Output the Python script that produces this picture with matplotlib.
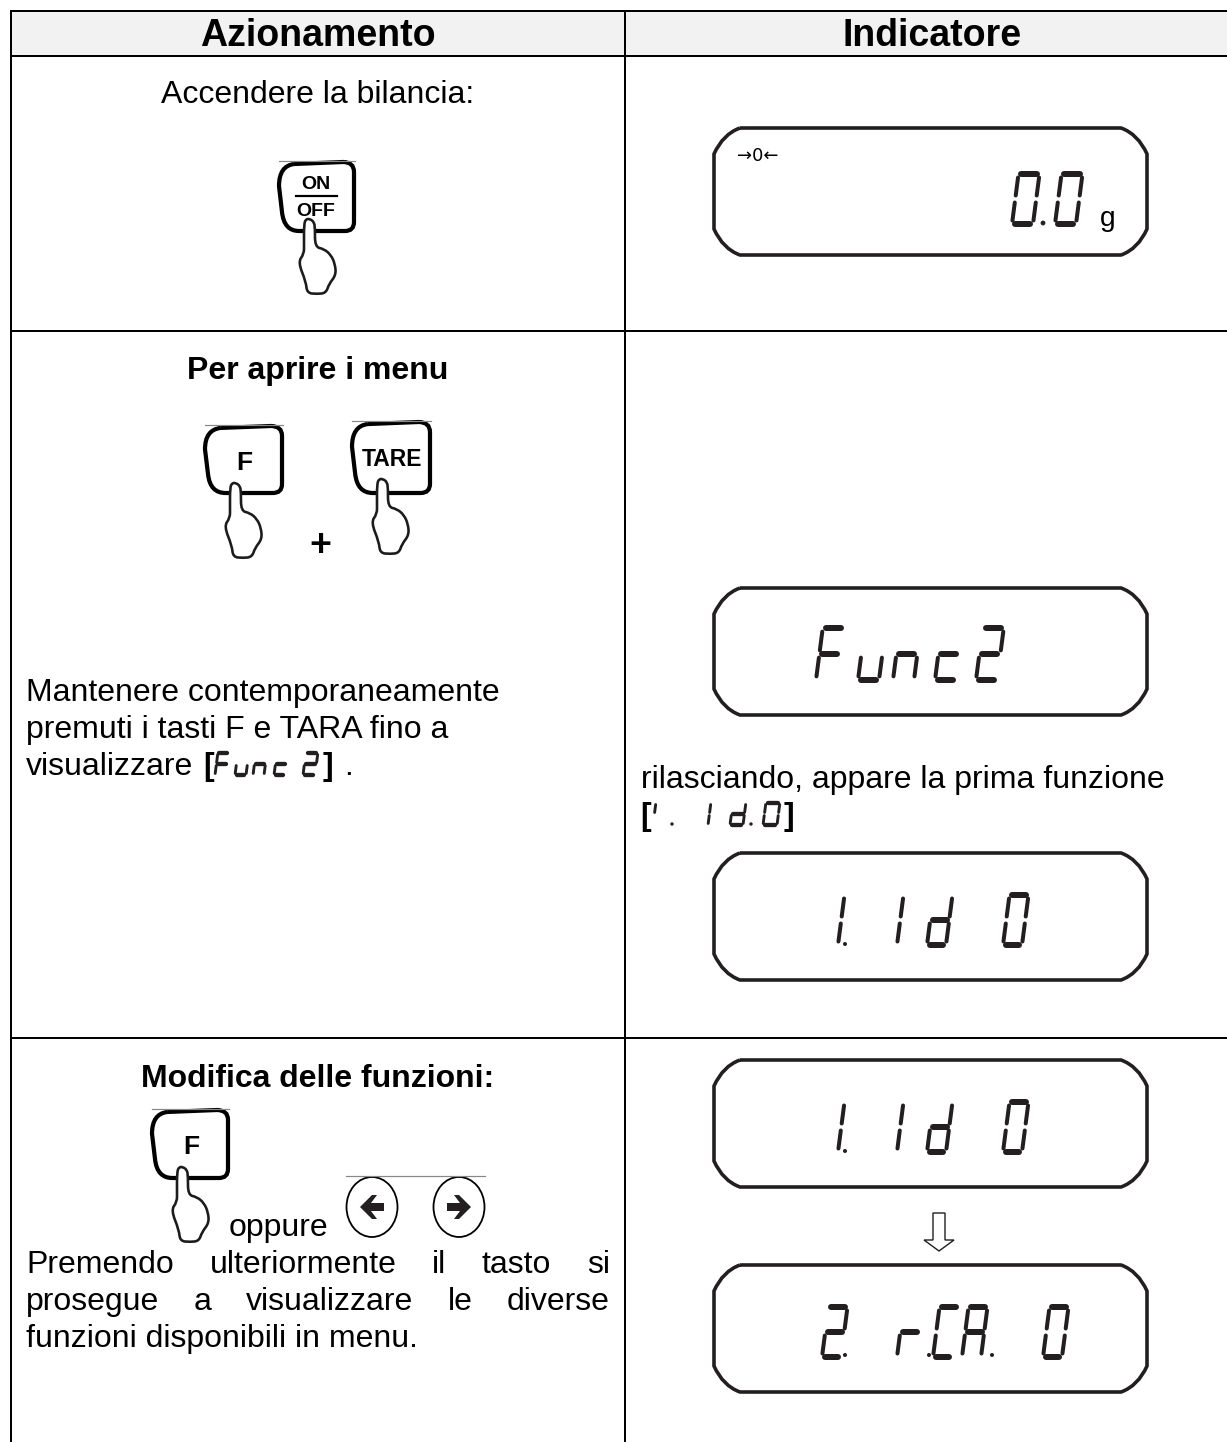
import matplotlib
matplotlib.use('Agg')
import matplotlib.pyplot as plt
from matplotlib.path import Path
from matplotlib.patches import PathPatch, Ellipse, Polygon, Rectangle

plt.rcParams['font.family'] = ['Liberation Sans', 'DejaVu Sans']

# texts of the table
headers = ['Azionamento', 'Indicatore']
turn_on = 'Accendere la bilancia:'
menu_title = 'Per aprire i menu'
menu_lines = ['Mantenere contemporaneamente', 'premuti i tasti F e TARA fino a', 'visualizzare']
release_line = 'rilasciando, appare la prima funzione'
change_title = 'Modifica delle funzioni:'
or_word = 'oppure'
change_lines = ['Premendo ulteriormente il tasto si', 'prosegue a visualizzare le diverse', 'funzioni disponibili in menu.']

# what the LCD displays read
lcd_zero = '00'
lcd_func = 'Func2'
lcd_id = '11d0'
lcd_rca = '2rCA0'
key_labels = ['ON', 'OFF', 'F', 'TARE']

fig = plt.figure(figsize=(12.27, 14.42), dpi=100)
ax = fig.add_axes([0, 0, 1, 1])
ax.set_xlim(0, 1227)
ax.set_ylim(1442, 0)
ax.axis('off')

PX = 0.72  # one pixel in points
BODY = 23
HEAD = 27

SEGS = {'0': 'abcdef', '1': 'bc', '2': 'abged', 'F': 'afge', 'u': 'ecd', 'n': 'egc', 'c': 'ged',
        'd': 'bcdeg', 'r': 'eg', 'C': 'afed', 'A': 'abcefg', 'I': 'b'}
ENDS = {'a': ((0.14, 1), (0.86, 1)), 'b': ((1, 0.93), (1, 0.57)), 'c': ((1, 0.43), (1, 0.07)),
        'd': ((0.14, 0), (0.86, 0)), 'e': ((0, 0.43), (0, 0.07)), 'f': ((0, 0.93), (0, 0.57)),
        'g': ((0.14, 0.5), (0.86, 0.5))}


def glyph(ch, x, top, w, h, thick=5.0):
    # seven segment character, x is the bottom left corner
    slant = 0.13 * h
    for s in SEGS[ch]:
        (u0, v0), (u1, v1) = ENDS[s]
        lw = thick * PX * (1.2 if s in 'adg' else 0.8)
        ax.plot([x + u0 * w + slant * v0, x + u1 * w + slant * v1],
                [top + h * (1 - v0), top + h * (1 - v1)],
                color='#231f20', lw=lw, solid_capstyle='round')


def dot(x, y, r=2.4):
    ax.add_patch(Ellipse((x, y), 2 * r, 2 * r, fc='#231f20', ec='none'))


def lcd_box(top):
    l, r, b = 714, 1147, top + 127
    c = 26
    verts = [(l + c, top), (r - c, top), (r - 9, top + 6), (r, top + c), (r, b - c), (r - 9, b - 6), (r - c, b),
             (l + c, b), (l + 9, b - 6), (l, b - c), (l, top + c), (l + 9, top + 6), (l + c, top)]
    codes = [Path.MOVETO, Path.LINETO, Path.CURVE3, Path.CURVE3, Path.LINETO, Path.CURVE3, Path.CURVE3,
             Path.LINETO, Path.CURVE3, Path.CURVE3, Path.LINETO, Path.CURVE3, Path.CURVE3]
    ax.add_patch(PathPatch(Path(verts, codes), fc='white', ec='#231f20', lw=3.6 * PX))


def smooth_closed(pts):
    # quadratic curve through the midpoints, so the hand has no sharp corners
    mid = lambda p, q: ((p[0] + q[0]) / 2, (p[1] + q[1]) / 2)
    n = len(pts)
    verts = [mid(pts[0], pts[1])]
    codes = [Path.MOVETO]
    for i in range(1, n + 1):
        verts += [pts[i % n], mid(pts[i % n], pts[(i + 1) % n])]
        codes += [Path.CURVE3, Path.CURVE3]
    return Path(verts, codes)


def key(x, y, w, h, labels, size):
    # top hairline, rounded key, then the pressing hand on top
    ax.plot([x, x + w + 1], [y - 1, y - 1], color='#888888', lw=1.2 * PX)
    sx, sy = w / 75, h / 69
    pts = [(15, 2), (64, 0), (75, 0), (75, 10), (75, 60), (75, 69), (66, 69), (20, 69), (5, 69), (3, 50), (0, 24),
           (0, 4), (15, 2)]
    codes = [Path.MOVETO, Path.LINETO, Path.CURVE3, Path.CURVE3, Path.LINETO, Path.CURVE3, Path.CURVE3,
             Path.LINETO, Path.CURVE3, Path.CURVE3, Path.LINETO, Path.CURVE3, Path.CURVE3]
    ax.add_patch(PathPatch(Path([(x + a * sx, y + b * sy) for a, b in pts], codes), fc='white', ec='black',
                           lw=4.2 * PX))
    cx = x + w * 0.5
    if len(labels) == 2:
        ax.text(cx - 1, y + 27, labels[0], ha='center', va='baseline', fontsize=size, fontweight='bold')
        ax.plot([cx - 21, cx + 20], [y + 34, y + 34], color='black', lw=2.2 * PX)
        ax.text(cx - 1, y + 54, labels[1], ha='center', va='baseline', fontsize=size, fontweight='bold')
    else:
        ax.text(cx + 1, y + 44, labels[0], ha='center', va='baseline', fontsize=size, fontweight='bold')
    hand = [(25, 82), (25, 62), (27, 57), (31, 57), (35, 60), (36, 66), (36, 85), (45, 87), (52, 93), (56, 102),
            (57, 113), (50, 122), (47, 131), (38, 132), (28, 131), (27, 120), (19, 100), (25, 92)]
    ax.add_patch(PathPatch(smooth_closed([(x + a, y + b) for a, b in hand]), fc='white', ec='#1c1c1c', lw=2.6 * PX))


def round_arrow(cx, cy, direction):
    ax.add_patch(Ellipse((cx, cy), 51, 60, fc='white', ec='black', lw=1.8 * PX))
    d = direction
    arrow = [(-12, 0), (0, -12), (5, -12), (-1, -4), (12, -4), (12, 4), (-1, 4), (5, 12), (0, 12)]
    ax.add_patch(Polygon([(cx + d * a, cy + b) for a, b in arrow], closed=True, fc='#231f20', ec='none'))


def justified(words_line, left, right, baseline):
    # same look as justified paragraph: spread words between the margins
    words = words_line.split()
    r = fig.canvas.get_renderer()
    items = [ax.text(left, baseline, w, fontsize=BODY, va='baseline') for w in words]
    widths = [t.get_window_extent(r).width for t in items]
    gap = (right - left - sum(widths)) / (len(words) - 1)
    x = left
    for t, wd in zip(items, widths):
        t.set_x(x)
        x += wd + gap


# table rules, the header row is shaded and there is no right border
ax.add_patch(Rectangle((11, 11), 1216, 45, fc='#f2f2f2', ec='none'))
for x in [11, 625]:
    ax.plot([x, x], [10, 1442], color='black', lw=2 * PX, solid_capstyle='butt')
for y in [11, 56, 331, 1038]:
    ax.plot([10, 1227], [y, y], color='black', lw=2 * PX, solid_capstyle='butt')

ax.text(318, 46, headers[0], ha='center', va='baseline', fontsize=HEAD, fontweight='bold')
ax.text(932, 46, headers[1], ha='center', va='baseline', fontsize=HEAD, fontweight='bold')

# first row
ax.text(318, 103, turn_on, ha='center', va='baseline', fontsize=BODY)
key(279, 162, 75, 69, key_labels[:2], 14)

lcd_box(128)
ax.text(737, 161, '→0←', fontsize=13, va='baseline', family=['DejaVu Sans'])
for ch, x in zip(lcd_zero, [1012, 1055]):
    glyph(ch, x, 174, 21, 50)
dot(1043, 223)
ax.text(1100, 226, 'g', fontsize=BODY * 0.88, va='baseline')

# second row
ax.text(318, 379, menu_title, ha='center', va='baseline', fontsize=BODY, fontweight='bold')
key(205, 426, 77, 67, key_labels[2:3], 19)
key(352, 422, 78, 71, key_labels[3:], 16.5)
ax.text(320, 556, '+', ha='center', va='baseline', fontsize=27, fontweight='bold')

for i, line in enumerate(menu_lines):
    ax.text(26, 701 + 37 * i, line, va='baseline', fontsize=BODY)
ax.text(203, 775, '[', va='baseline', fontsize=BODY, fontweight='bold')
for ch, x in zip('Func', [215, 235, 253, 274]):
    glyph(ch, x, 753, 11, 22, thick=3.6)
glyph('2', 303, 753, 12, 22, thick=3.6)
ax.text(323, 775, ']', va='baseline', fontsize=BODY, fontweight='bold')
ax.text(344, 775, '.', va='baseline', fontsize=BODY)

lcd_box(588)
for ch, x in zip(lcd_func, [816, 858, 893, 935, 976]):
    glyph(ch, x, 628, 21, 52)

ax.text(640, 825, '[', va='baseline', fontsize=BODY, fontweight='bold')
ax.text(641, 788, release_line, va='baseline', fontsize=BODY)
glyph('I', 642, 803, 11, 22, thick=3.6)
dot(672, 824, 1.7)
glyph('1', 697, 803, 11, 22, thick=3.6)
glyph('d', 730, 803, 13, 22, thick=3.6)
dot(751, 824, 1.7)
glyph('0', 763, 803, 14, 22, thick=3.6)
ax.text(784, 825, ']', va='baseline', fontsize=BODY, fontweight='bold')


def id_display(top):
    for ch, x in zip(lcd_id, [819, 878, 927, 1003]):
        glyph(ch, x, top + 42, 19, 50)
    dot(845, top + 91, 2)


lcd_box(853)
id_display(853)

# third row
ax.text(318, 1087, change_title, ha='center', va='baseline', fontsize=BODY, fontweight='bold')
key(152, 1110, 76, 68, key_labels[2:3], 19)
ax.text(229, 1236, or_word, va='baseline', fontsize=BODY)
ax.plot([346, 485], [1176, 1176], color='#888888', lw=1.2 * PX)
round_arrow(372, 1207, 1)
round_arrow(459, 1207, -1)

fig.canvas.draw()
justified(change_lines[0], 26, 610, 1273)
justified(change_lines[1], 26, 610, 1310)
ax.text(26, 1347, change_lines[2], va='baseline', fontsize=BODY)

lcd_box(1060)
id_display(1060)

ax.add_patch(Polygon([(933, 1213), (945, 1213), (945, 1240), (954, 1240), (939, 1251), (924, 1240), (933, 1240)],
                     closed=True, fc='white', ec='#231f20', lw=1.4 * PX))

lcd_box(1265)
for ch, x in zip(lcd_rca, [822, 897, 933, 962, 1043]):
    glyph(ch, x, 1307, 19, 50)
dot(845, 1355, 2)
dot(929, 1355, 2)
dot(992, 1355, 2)

fig.savefig('out.png', dpi=100, facecolor='white')
